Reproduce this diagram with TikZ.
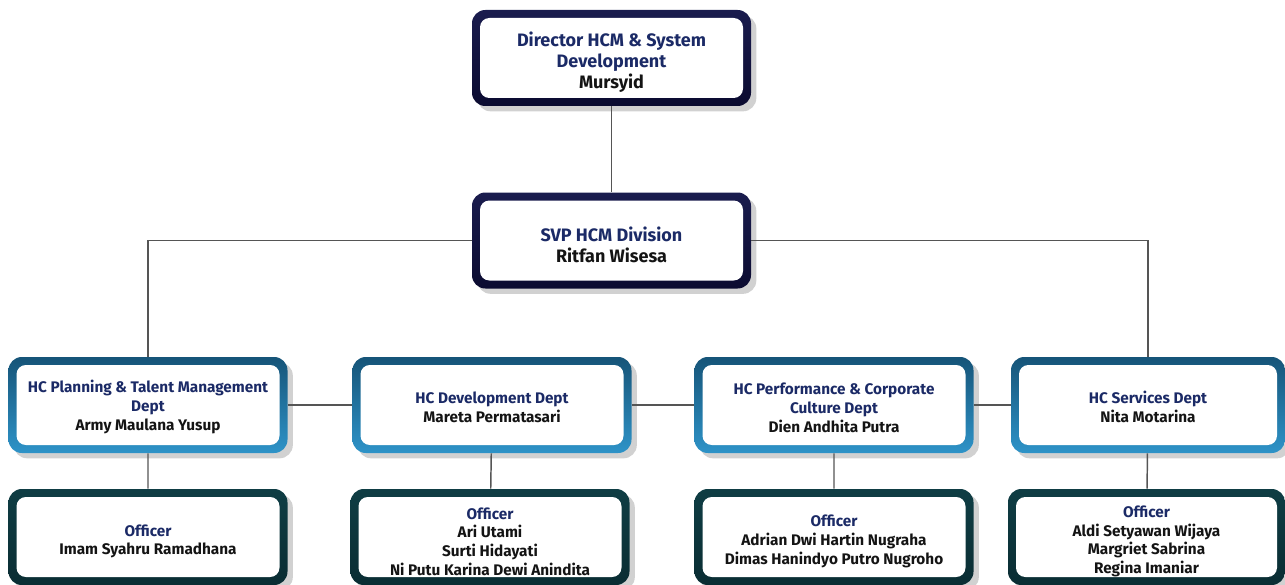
\documentclass[tikz,border=0pt]{standalone}
\usepackage{fontspec}
\setmainfont{Fira Sans}
\usepackage{tikz}
\usetikzlibrary{shadows}

\definecolor{titleblue}{HTML}{1B2A66}
\definecolor{namegray}{HTML}{141414}
\definecolor{linegray}{HTML}{555555}
\definecolor{navytop}{HTML}{1A1C4E}
\definecolor{navybot}{HTML}{0B0B30}
\definecolor{depttop}{HTML}{165478}
\definecolor{deptbot}{HTML}{2E93C8}
\definecolor{offtop}{HTML}{0F3D44}
\definecolor{offbot}{HTML}{0A2D33}

\newcommand\boxgap{0pt}
\newcommand\rolename[1]{\textcolor{titleblue}{#1}}
\newcommand\toprole[1]{\rule{0pt}{\boxgap}\rolename{#1}}

\begin{document}
\begin{tikzpicture}[x=0.75pt, y=-0.75pt,
    box/.style = {rectangle, rounded corners=10pt, align=center, inner sep=0pt,
                  minimum width=279*0.75pt, minimum height=96*0.75pt,
                  text=namegray, font=\bfseries,
                  drop shadow={shadow xshift=4pt, shadow yshift=-4pt, fill=black, opacity=.18},
                  path picture={\fill[white, rounded corners=7pt]
                     ([shift={(6pt,6pt)}]path picture bounding box.south west) rectangle
                     ([shift={(-6pt,-6pt)}]path picture bounding box.north east);}},
    headbox/.style = {box, top color=navytop, bottom color=navybot,
                      font=\bfseries\fontsize{13.5}{15.75}\selectfont,
                      /utils/exec={\def\boxgap{17pt}}},
    deptbox/.style = {box, top color=depttop, bottom color=deptbot,
                      font=\bfseries\fontsize{11.5}{14.25}\selectfont,
                      /utils/exec={\def\boxgap{12.5pt}}},
    offbox/.style  = {box, top color=offtop, bottom color=offbot,
                      font=\bfseries\fontsize{11.5}{14}\selectfont,
                      /utils/exec={\def\boxgap{15.5pt}}},
    link/.style = {draw=linegray, line width=1.1pt}]
  \useasboundingbox (0,0) rectangle (1285,585);

  % management
  \node[headbox] (dir) at (611.5,58) {\toprole{Director HCM \& System}\\\rolename{Development}\\Mursyid};
  \node[headbox] (svp) at (611.5,240.5) {\toprole{SVP HCM Division}\\Ritfan Wisesa};

  % departments
  \node[deptbox] (plan) at (148,405) {\toprole{HC Planning \& Talent Management}\\\rolename{Dept}\\Army Maulana Yusup};
  \node[deptbox] (devt) at (492,405) {\toprole{HC Development Dept}\\Mareta Permatasari};
  \node[deptbox] (perf) at (834,405) {\toprole{HC Performance \& Corporate}\\\rolename{Culture Dept}\\Dien Andhita Putra};
  \node[deptbox, minimum width=274*0.75pt] (serv) at (1148,405) {\toprole{HC Services Dept}\\Nita Motarina};

  % officers
  \node[offbox] (offplan) at (148,537) {\toprole{Officer}\\Imam Syahru Ramadhana};
  \node[offbox] (offdevt) at (490,537) {\toprole{Officer}\\Ari Utami\\Surti Hidayati\\Ni Putu Karina Dewi Anindita};
  \node[offbox] (offperf) at (834,537) {\toprole{Officer}\\Adrian Dwi Hartin Nugraha\\Dimas Hanindyo Putro Nugroho};
  \node[offbox, minimum width=277*0.75pt] (offserv) at (1146.5,537) {\toprole{Officer}\\Aldi Setyawan Wijaya\\Margriet Sabrina\\Regina Imaniar};

  % connectors
  \path[link] (dir) -- (svp);
  \path[link] (svp.west) -| (plan.north);
  \path[link] (svp.east) -| (serv.north);
  \path[link] (plan) -- (devt) (devt) -- (perf) (perf) -- (serv);
  \path[link] (plan) -- (offplan) (devt) -- (offdevt)
              (perf) -- (offperf) (serv) -- (offserv);
\end{tikzpicture}
\end{document}
